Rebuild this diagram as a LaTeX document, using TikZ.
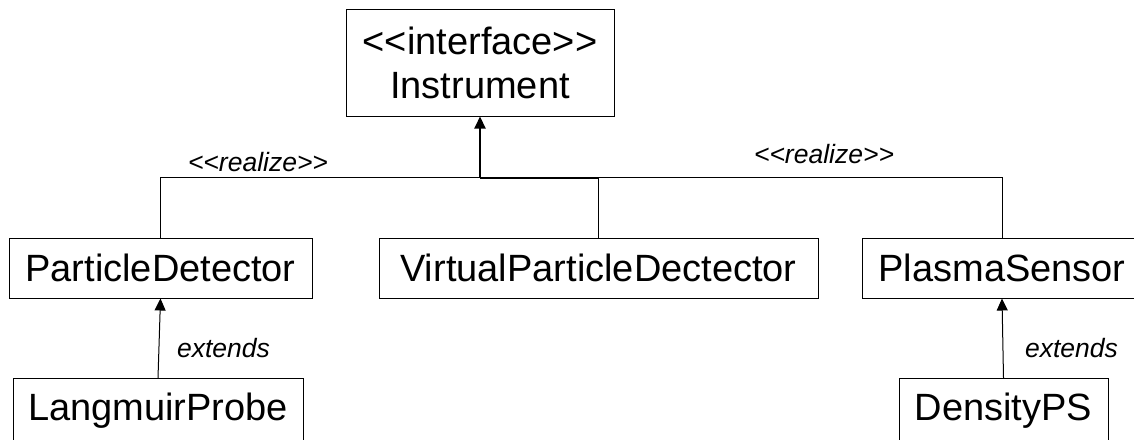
\documentclass[tikz,border=0pt]{standalone}
\usepackage{fontspec}
\setmainfont{Liberation Sans}
\usetikzlibrary{arrows.meta}
\begin{document}
\begin{tikzpicture}[x=1pt,y=-1pt,
  box/.style={draw=black, line width=1pt, inner sep=0pt, align=center,
              font=\fontsize{38}{44}\selectfont},
  lbl/.style={inner sep=0pt, font=\fontsize{26.5}{30}\selectfont\itshape},
  link/.style={draw=black, line width=1pt},
  trunk/.style={draw=black, line width=2pt},
  tip/.style={-{Triangle[length=12pt,width=11pt]}}]
\useasboundingbox (0,0) rectangle (1134,439);
\clip (0,0) rectangle (1134,439);

% interface and classes
\node[box, minimum width=268pt, minimum height=107pt] (inst) at (480,62.5)
  {<{}<interface>{}>\\Instrument};
\node[box, minimum width=303pt, minimum height=60pt] (pd) at (160.5,268) {ParticleDetector};
\node[box, minimum width=439pt, minimum height=60pt] (vpd) at (598.5,268) {VirtualParticleDectector};
\node[box, minimum width=280pt, minimum height=60pt] (ps) at (1002,268) {PlasmaSensor};
\node[box, minimum width=290pt, minimum height=64pt, anchor=north] (lp) at (158,378) {LangmuirProbe};
\node[box, minimum width=209pt, minimum height=64pt, anchor=north] (dps) at (1003.5,378) {DensityPS};

% realization tree
\path (inst.south) ++(0,61) coordinate (j);
\coordinate (jv) at (vpd.north |- j);
\draw[link] (pd.north) |- (j);
\draw[link] (ps.north) |- (j);
\draw[link] (vpd.north) -- (jv);
\draw[trunk] (jv) -- (j);
\draw[trunk, tip] (j) -- (inst.south);

% generalizations
\draw[link, tip] (lp.north) -- (pd.south);
\draw[link, tip] (dps.north) -- (ps.south);

% labels
\node[lbl] (r1) at (258,162) {<{}<realize>{}>};
\node[lbl] (r2) at (824,154) {<{}<realize>{}>};
\node[lbl] (e1) at (223.5,348) {extends};
\node[lbl] (e2) at (1071.5,348) {extends};
\end{tikzpicture}
\end{document}
